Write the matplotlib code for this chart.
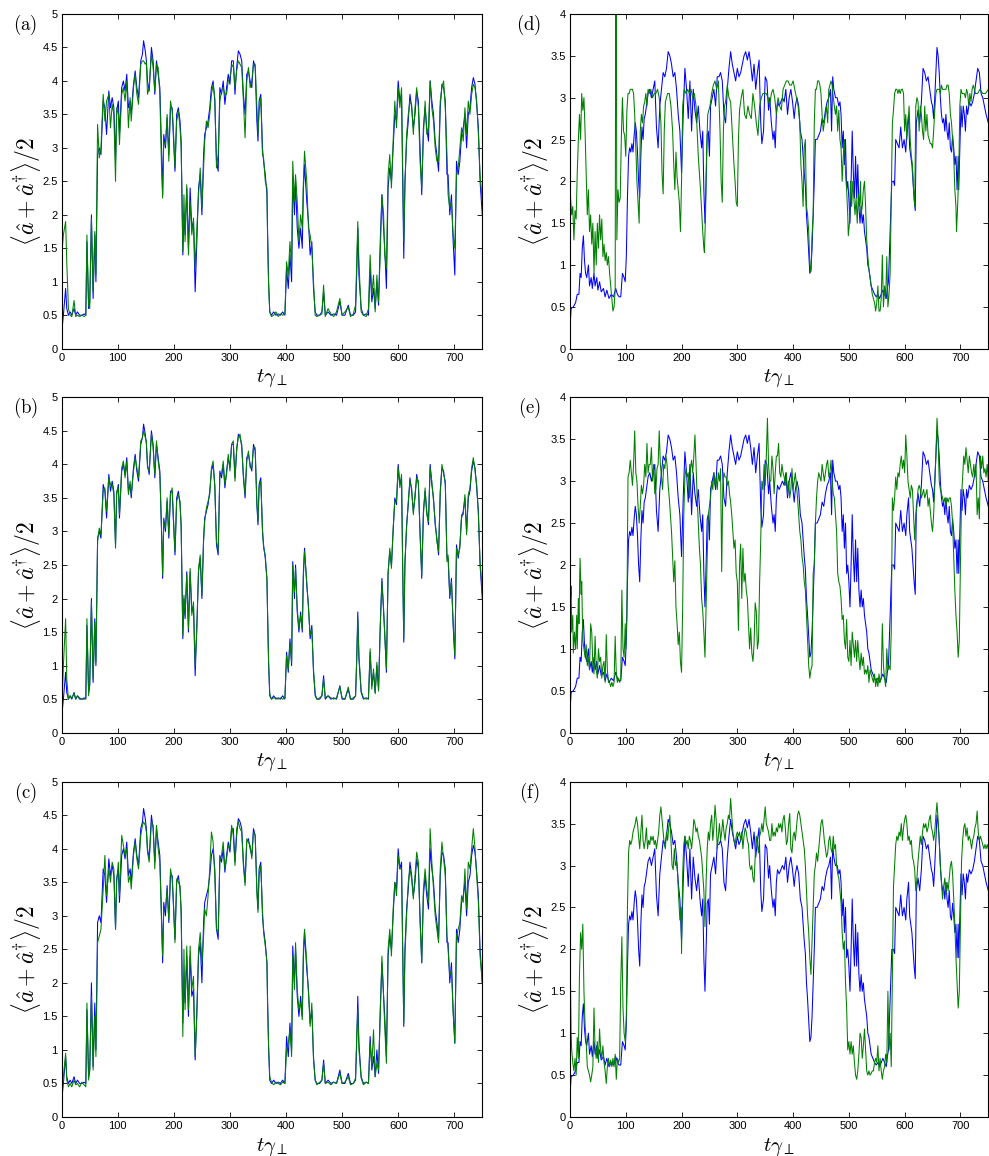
import numpy as np
import matplotlib
matplotlib.use("Agg")
import matplotlib.pyplot as plt

plt.rcParams['mathtext.fontset'] = 'cm'
plt.rcParams['font.family'] = ['Liberation Sans', 'DejaVu Sans']

# ---------------- left column (a)-(c) ----------------
t_left = [0, 3, 7, 9, 12, 15, 18, 22, 25, 28,
          32, 36, 40, 43, 45, 48, 50, 53, 56, 59,
          61, 64, 67, 70, 74, 77, 80, 84, 87, 90,
          93, 96, 98, 101, 103, 107, 110, 113, 116, 119,
          122, 124, 128, 131, 134, 137, 141, 144, 146, 149,
          151, 153, 156, 160, 163, 166, 169, 172, 175, 178,
          180, 182, 185, 188, 191, 194, 197, 199, 202, 205,
          208, 211, 213, 216, 218, 220, 223, 226, 229, 232,
          235, 238, 241, 244, 247, 250, 253, 255, 258, 261,
          264, 267, 270, 273, 276, 279, 282, 285, 288, 291,
          294, 297, 300, 303, 306, 309, 312, 315, 318, 321,
          324, 327, 330, 333, 336, 339, 342, 345, 348, 350,
          352, 355, 358, 360, 363, 366, 367, 369, 371, 374,
          378, 382, 386, 390, 394, 398, 401, 404, 407, 410,
          412, 415, 417, 420, 423, 426, 429, 431, 433, 437,
          440, 443, 446, 449, 452, 455, 460, 464, 467, 470,
          475, 480, 485, 490, 496, 500, 505, 511, 515, 520,
          524, 526, 528, 530, 534, 538, 543, 547, 550, 553,
          556, 559, 562, 565, 568, 571, 574, 576, 579, 582,
          585, 588, 591, 594, 597, 600, 603, 606, 608, 610,
          612, 615, 618, 621, 624, 627, 630, 633, 636, 639,
          642, 645, 648, 651, 654, 657, 660, 663, 666, 669,
          672, 675, 678, 681, 684, 687, 689, 692, 695, 698,
          701, 704, 707, 710, 713, 716, 719, 722, 725, 728,
          731, 734, 737, 740, 743, 746, 750]

blue_left = [0.25, 0.50, 0.90, 0.60, 0.50, 0.55, 0.50, 0.60, 0.50, 0.55,
             0.50, 0.50, 0.52, 0.50, 1.60, 0.60, 0.70, 2.00, 0.75, 1.70,
             1.00, 2.90, 3.00, 2.90, 3.70, 3.60, 3.20, 3.85, 3.60, 3.75,
             3.60, 2.80, 3.55, 3.70, 3.20, 3.90, 4.00, 3.85, 4.10, 3.60,
             3.70, 3.50, 3.95, 4.15, 3.90, 3.75, 4.30, 4.40, 4.60, 4.45,
             4.30, 4.00, 3.85, 4.50, 4.30, 3.80, 4.30, 4.10, 3.90, 3.00,
             2.30, 3.20, 3.00, 3.45, 2.90, 3.60, 3.60, 3.20, 2.65, 3.50,
             3.60, 3.40, 3.10, 1.40, 2.00, 1.70, 2.40, 1.50, 2.40, 1.80,
             1.90, 0.85, 1.60, 2.40, 2.60, 2.00, 2.90, 3.20, 3.30, 3.40,
             3.60, 3.90, 4.00, 3.70, 2.80, 2.65, 3.90, 3.80, 4.00, 3.65,
             3.90, 4.10, 3.95, 4.30, 4.30, 3.80, 4.20, 4.45, 4.40, 4.30,
             3.80, 3.50, 4.10, 4.15, 4.00, 3.90, 4.30, 4.20, 3.40, 3.10,
             3.70, 3.80, 3.00, 2.80, 2.60, 2.30, 1.80, 1.00, 0.55, 0.50,
             0.55, 0.50, 0.52, 0.50, 0.55, 0.50, 1.20, 0.90, 1.40, 1.00,
             2.55, 2.00, 2.50, 1.80, 1.50, 1.80, 1.50, 2.40, 2.75, 2.20,
             1.90, 1.40, 1.60, 0.90, 0.55, 0.50, 0.50, 0.55, 0.85, 0.50,
             0.55, 0.50, 0.52, 0.50, 0.70, 0.50, 0.50, 0.65, 0.50, 0.50,
             0.55, 1.10, 1.80, 1.10, 0.60, 0.50, 0.52, 0.50, 1.20, 0.70,
             0.90, 0.60, 1.00, 0.65, 1.60, 2.30, 1.80, 1.50, 0.90, 2.40,
             2.70, 2.50, 3.00, 3.50, 3.40, 4.00, 3.70, 3.80, 2.50, 1.35,
             2.50, 3.10, 3.40, 3.80, 3.60, 3.30, 3.50, 3.85, 3.70, 3.00,
             2.30, 3.30, 3.60, 3.30, 3.10, 4.00, 3.70, 3.50, 3.10, 2.90,
             2.65, 3.60, 3.95, 3.90, 3.70, 2.60, 2.60, 2.00, 2.30, 1.60,
             1.10, 2.80, 2.60, 2.80, 3.20, 3.30, 3.50, 3.00, 3.50, 3.60,
             3.90, 4.05, 3.95, 3.65, 3.30, 2.50, 2.00]

green_a = [1.40, 1.70, 1.90, 1.30, 0.60, 0.50, 0.48, 0.72, 0.48, 0.50,
           0.48, 0.50, 0.48, 0.50, 1.70, 0.65, 0.60, 1.95, 0.85, 1.75,
           1.10, 3.35, 2.85, 3.00, 3.80, 3.40, 3.70, 3.80, 3.30, 3.65,
           3.50, 2.50, 3.60, 3.50, 3.05, 3.80, 3.90, 3.70, 4.00, 3.30,
           3.75, 3.40, 3.90, 4.10, 3.80, 3.65, 4.25, 4.30, 4.30, 4.25,
           4.28, 3.80, 3.90, 4.40, 4.20, 3.85, 4.25, 4.20, 3.80, 2.70,
           2.25, 3.10, 3.05, 3.50, 2.80, 3.70, 3.55, 3.30, 2.70, 3.40,
           3.55, 3.30, 3.00, 1.45, 2.30, 1.60, 2.45, 1.40, 2.20, 1.70,
           1.95, 1.20, 1.80, 2.30, 2.70, 2.10, 2.70, 3.10, 3.40, 3.30,
           3.50, 3.80, 3.95, 3.75, 2.70, 2.90, 3.70, 3.85, 3.90, 3.80,
           3.80, 4.00, 4.05, 4.20, 4.25, 3.90, 4.15, 4.30, 4.25, 4.20,
           3.70, 3.15, 4.00, 4.20, 3.90, 4.00, 4.25, 4.25, 3.60, 3.20,
           3.55, 3.75, 2.90, 2.85, 2.50, 2.40, 1.70, 0.90, 0.55, 0.48,
           0.50, 0.55, 0.48, 0.52, 0.50, 0.52, 1.30, 1.10, 1.60, 1.20,
           2.80, 2.20, 2.60, 2.20, 1.60, 2.00, 1.80, 2.50, 2.95, 2.50,
           1.80, 1.70, 1.50, 1.00, 0.50, 0.48, 0.50, 0.52, 0.95, 0.48,
           0.60, 0.52, 0.48, 0.55, 0.75, 0.50, 0.55, 0.62, 0.48, 0.52,
           0.65, 1.30, 1.90, 1.30, 0.55, 0.50, 0.48, 0.60, 1.40, 0.80,
           1.10, 0.55, 1.10, 0.70, 1.40, 2.30, 2.00, 1.40, 1.20, 2.60,
           2.90, 2.40, 3.10, 3.70, 3.30, 3.90, 3.60, 3.90, 2.70, 1.60,
           2.40, 3.20, 3.50, 3.70, 3.65, 3.20, 3.60, 3.90, 3.60, 2.80,
           2.40, 3.20, 3.70, 3.20, 3.30, 4.00, 3.60, 3.40, 3.00, 2.80,
           2.80, 3.70, 3.90, 4.00, 3.60, 2.90, 2.30, 2.10, 2.20, 1.70,
           1.50, 2.60, 2.70, 3.00, 3.30, 3.10, 3.60, 3.20, 3.70, 3.50,
           3.80, 3.95, 3.90, 3.70, 3.20, 2.60, 2.20]

green_b = [0.30, 1.00, 1.70, 0.80, 0.50, 0.55, 0.52, 0.58, 0.50, 0.55,
           0.52, 0.50, 0.50, 0.52, 1.70, 0.55, 0.75, 1.95, 0.80, 1.65,
           1.05, 2.85, 3.05, 2.95, 3.60, 3.65, 3.30, 3.80, 3.70, 3.70,
           3.55, 2.75, 3.60, 3.65, 3.25, 3.95, 4.05, 3.80, 4.05, 3.55,
           3.75, 3.55, 3.90, 4.10, 3.95, 3.80, 4.35, 4.40, 4.50, 4.40,
           4.35, 3.95, 3.90, 4.45, 4.25, 3.85, 4.35, 4.05, 3.85, 3.05,
           2.35, 3.15, 3.05, 3.50, 2.95, 3.55, 3.65, 3.25, 2.70, 3.45,
           3.55, 3.45, 3.05, 1.45, 2.05, 1.75, 2.35, 1.55, 2.45, 1.75,
           1.95, 1.00, 1.55, 2.45, 2.65, 2.05, 2.85, 3.15, 3.35, 3.45,
           3.55, 3.95, 4.05, 3.65, 2.85, 2.70, 3.85, 3.85, 4.05, 3.70,
           3.85, 4.15, 3.90, 4.30, 4.35, 3.75, 4.25, 4.40, 4.45, 4.25,
           3.85, 3.55, 4.05, 4.20, 3.95, 3.95, 4.25, 4.25, 3.45, 3.15,
           3.65, 3.75, 3.05, 2.75, 2.65, 2.25, 1.85, 1.05, 0.58, 0.50,
           0.52, 0.52, 0.50, 0.52, 0.50, 0.52, 1.15, 0.95, 1.35, 1.05,
           2.50, 2.10, 2.45, 1.85, 1.55, 1.75, 1.55, 2.35, 2.70, 2.25,
           1.85, 1.45, 1.55, 0.95, 0.58, 0.50, 0.52, 0.55, 0.80, 0.52,
           0.55, 0.52, 0.50, 0.52, 0.68, 0.52, 0.50, 0.68, 0.50, 0.52,
           0.55, 1.05, 1.70, 1.15, 0.62, 0.52, 0.50, 0.52, 1.25, 0.65,
           0.95, 0.58, 1.05, 0.62, 1.55, 2.25, 1.85, 1.45, 0.95, 2.35,
           2.75, 2.45, 3.05, 3.45, 3.45, 3.95, 3.65, 3.85, 2.45, 1.40,
           2.55, 3.05, 3.45, 3.75, 3.65, 3.25, 3.55, 3.80, 3.75, 2.95,
           2.35, 3.25, 3.65, 3.25, 3.15, 3.95, 3.75, 3.45, 3.15, 2.85,
           2.70, 3.55, 4.00, 3.85, 3.75, 2.55, 2.65, 2.05, 2.25, 1.65,
           1.15, 2.75, 2.65, 2.75, 3.25, 3.25, 3.55, 2.95, 3.55, 3.65,
           3.95, 4.10, 3.90, 3.70, 3.25, 2.55, 2.10]

green_c = [0.30, 0.60, 0.95, 0.55, 0.45, 0.50, 0.45, 0.55, 0.48, 0.50,
           0.45, 0.52, 0.48, 0.45, 1.70, 0.55, 0.70, 1.80, 0.70, 1.50,
           0.90, 2.60, 2.70, 2.80, 3.40, 3.90, 3.30, 3.70, 3.50, 3.80,
           3.70, 2.80, 3.50, 3.80, 3.30, 4.20, 4.05, 3.90, 4.00, 3.50,
           3.60, 3.40, 3.90, 4.10, 3.85, 3.70, 4.20, 4.35, 4.40, 4.35,
           4.25, 3.95, 3.80, 4.40, 4.35, 3.70, 4.35, 4.00, 3.80, 2.90,
           2.40, 3.10, 3.10, 3.40, 2.95, 3.70, 3.55, 3.25, 2.60, 3.55,
           3.50, 3.45, 3.00, 1.20, 2.50, 1.60, 2.55, 1.60, 2.55, 1.90,
           2.10, 0.90, 1.50, 2.50, 2.75, 2.30, 2.70, 3.10, 3.00, 3.30,
           3.70, 4.25, 4.10, 3.60, 2.80, 2.75, 3.80, 3.90, 4.10, 3.70,
           3.85, 4.05, 4.00, 4.35, 4.20, 3.75, 4.30, 4.40, 4.30, 4.25,
           3.75, 3.45, 4.15, 4.10, 4.05, 3.85, 4.25, 4.20, 3.35, 3.05,
           3.60, 3.75, 3.10, 2.75, 2.55, 2.30, 1.70, 1.05, 0.60, 0.52,
           0.48, 0.52, 0.50, 0.48, 0.52, 0.50, 1.00, 1.10, 1.30, 0.90,
           2.40, 1.90, 2.60, 1.90, 1.60, 1.70, 1.45, 2.50, 2.80, 2.30,
           1.85, 1.35, 1.70, 0.85, 0.55, 0.48, 0.52, 0.55, 0.80, 0.50,
           0.52, 0.48, 0.52, 0.50, 0.65, 0.50, 0.52, 0.60, 0.48, 0.50,
           0.58, 1.20, 1.60, 1.00, 0.58, 0.48, 0.52, 0.50, 1.10, 0.75,
           1.30, 0.60, 0.80, 0.70, 1.50, 2.40, 1.80, 1.35, 0.80, 2.50,
           2.80, 2.40, 3.10, 3.50, 3.30, 3.90, 3.70, 3.70, 2.55, 1.40,
           2.40, 3.00, 3.50, 3.70, 3.55, 3.25, 3.60, 3.95, 3.80, 2.90,
           2.30, 3.40, 3.70, 3.40, 3.20, 4.30, 3.80, 3.40, 3.00, 2.80,
           2.60, 3.70, 4.10, 3.85, 3.60, 2.70, 2.50, 2.10, 2.20, 1.55,
           1.10, 2.70, 2.80, 2.90, 3.30, 3.20, 3.70, 3.10, 3.80, 3.70,
           4.00, 4.30, 4.00, 3.60, 3.20, 2.40, 2.00]

# ---------------- right column (d)-(f) ----------------
t_right_blue = [0, 2, 6, 10, 13, 16, 18, 20, 22, 24,
                26, 28, 30, 33, 35, 38, 40, 43, 45, 48,
                50, 53, 56, 60, 63, 66, 70, 74, 78, 82,
                85, 88, 91, 94, 97, 99, 101, 103, 105, 107,
                109, 111, 113, 115, 117, 119, 121, 123, 125, 127,
                129, 131, 133, 135, 137, 140, 143, 146, 149, 152,
                155, 158, 161, 164, 167, 170, 173, 176, 179, 182,
                185, 188, 191, 194, 197, 200, 203, 206, 209, 212,
                215, 218, 221, 224, 227, 230, 233, 236, 238, 240,
                242, 244, 246, 248, 250, 252, 255, 258, 261, 264,
                267, 270, 273, 276, 279, 282, 285, 288, 291, 294,
                297, 300, 303, 306, 309, 312, 315, 318, 321, 324,
                327, 330, 333, 336, 339, 342, 344, 347, 350, 353,
                356, 358, 361, 364, 366, 368, 370, 372, 375, 378,
                381, 384, 387, 390, 393, 396, 399, 402, 404, 407,
                410, 413, 416, 418, 420, 422, 424, 426, 428, 430,
                432, 434, 436, 438, 440, 443, 446, 449, 452, 455,
                458, 461, 464, 467, 469, 471, 473, 476, 479, 482,
                484, 486, 488, 490, 492, 494, 496, 498, 500, 502,
                504, 506, 508, 510, 512, 514, 516, 518, 520, 522,
                524, 526, 528, 530, 532, 534, 536, 538, 540, 543,
                546, 549, 552, 555, 558, 561, 564, 567, 569, 571,
                573, 575, 577, 580, 582, 584, 587, 590, 593, 596,
                599, 602, 604, 607, 609, 611, 613, 615, 617, 619,
                621, 624, 627, 630, 633, 636, 639, 642, 645, 648,
                650, 652, 654, 656, 658, 660, 662, 664, 666, 668,
                670, 672, 674, 676, 678, 680, 682, 684, 686, 688,
                690, 692, 694, 696, 697, 699, 701, 703, 705, 707,
                709, 711, 713, 716, 719, 722, 725, 728, 731, 734,
                737, 740, 743, 746, 750]

blue_right = [0.25, 0.48, 0.50, 0.55, 0.65, 0.65, 0.90, 0.85, 1.20, 1.35,
              1.05, 0.90, 0.85, 1.00, 0.75, 0.85, 0.72, 0.90, 0.75, 0.85,
              0.70, 0.80, 0.68, 0.72, 0.62, 0.70, 0.60, 0.65, 0.62, 0.72,
              0.65, 0.62, 0.62, 0.90, 0.85, 0.80, 1.10, 1.80, 2.30, 2.40,
              2.35, 2.45, 2.35, 2.55, 2.70, 2.60, 2.35, 2.00, 1.80, 2.30,
              2.65, 2.50, 2.75, 2.80, 2.90, 3.05, 3.10, 3.00, 3.10, 3.20,
              2.65, 2.40, 2.90, 3.10, 3.30, 3.25, 3.35, 3.55, 3.50, 3.40,
              3.25, 3.30, 3.10, 2.80, 2.60, 2.10, 2.80, 3.35, 3.10, 2.75,
              3.20, 2.60, 3.10, 2.85, 2.70, 2.90, 2.60, 2.40, 2.60, 1.90,
              1.50, 2.00, 2.55, 2.60, 2.30, 2.90, 3.00, 3.10, 2.90, 3.25,
              3.25, 3.30, 3.20, 2.80, 2.70, 3.10, 3.35, 3.55, 3.40, 3.30,
              3.20, 3.35, 3.25, 3.30, 3.40, 3.50, 3.55, 3.45, 3.55, 3.40,
              3.20, 3.40, 3.10, 3.30, 3.45, 2.70, 2.45, 2.60, 3.25, 3.20,
              2.85, 3.00, 2.70, 2.50, 2.60, 2.40, 2.80, 2.95, 2.90, 2.95,
              3.00, 2.95, 3.10, 2.80, 3.00, 3.10, 2.95, 2.75, 2.90, 3.00,
              2.90, 2.60, 2.50, 2.30, 2.10, 1.95, 1.60, 1.40, 1.15, 0.90,
              0.95, 1.20, 1.60, 2.00, 2.50, 2.50, 2.55, 2.60, 2.75, 2.70,
              2.85, 2.95, 3.00, 3.10, 2.60, 3.25, 3.10, 3.00, 3.00, 2.90,
              2.95, 2.80, 2.40, 2.60, 2.20, 2.50, 1.90, 2.00, 1.80, 1.50,
              2.00, 2.60, 2.10, 1.80, 2.30, 1.80, 2.20, 1.70, 1.50, 1.70,
              1.50, 1.60, 1.40, 1.30, 1.20, 1.00, 0.95, 0.85, 0.75, 0.70,
              0.65, 0.62, 0.65, 0.60, 0.65, 0.70, 0.65, 0.60, 0.72, 0.80,
              1.20, 1.60, 2.00, 2.00, 1.95, 2.50, 2.45, 2.40, 2.65, 2.40,
              2.50, 2.35, 2.60, 2.80, 2.40, 2.30, 2.20, 2.00, 1.80, 1.65,
              2.70, 2.85, 2.70, 2.95, 3.35, 3.30, 3.20, 3.25, 3.10, 2.95,
              2.90, 2.75, 3.00, 3.30, 3.60, 3.50, 3.30, 3.00, 2.80, 2.70,
              2.75, 2.60, 2.80, 2.60, 2.50, 2.70, 2.40, 2.35, 2.55, 2.40,
              2.20, 2.30, 1.90, 2.30, 1.90, 2.40, 2.90, 2.65, 2.90, 2.80,
              2.60, 2.90, 2.80, 2.95, 2.90, 2.95, 3.05, 3.20, 3.35, 3.30,
              3.05, 3.00, 2.90, 2.80, 2.70]

t_green_d = [0, 1, 3, 5, 7, 9, 11, 13, 15, 17,
             19, 21, 23, 25, 27, 29, 31, 33, 35, 37,
             39, 41, 43, 45, 47, 49, 51, 53, 55, 57,
             59, 61, 63, 65, 67, 69, 71, 73, 75, 77,
             79, 81, 82, 83, 84, 86, 88, 90, 92, 94,
             96, 98, 100, 102, 104, 106, 108, 110, 112, 114,
             116, 118, 120, 122, 124, 126, 128, 130, 132, 134,
             136, 138, 140, 142, 145, 148, 151, 154, 157, 160,
             163, 165, 167, 169, 171, 173, 175, 178, 181, 184,
             186, 188, 190, 192, 194, 196, 198, 200, 202, 205,
             208, 211, 214, 217, 220, 223, 226, 228, 230, 232,
             234, 236, 238, 240, 241, 243, 245, 247, 249, 251,
             254, 257, 260, 263, 266, 269, 271, 273, 275, 277,
             279, 282, 285, 288, 290, 292, 294, 296, 298, 300,
             302, 304, 307, 310, 313, 316, 319, 322, 325, 328,
             331, 334, 337, 340, 343, 346, 349, 352, 355, 358,
             361, 364, 367, 370, 373, 376, 379, 382, 385, 388,
             391, 394, 397, 400, 403, 406, 409, 412, 414, 416,
             418, 420, 422, 424, 426, 428, 430, 432, 434, 436,
             438, 440, 442, 444, 446, 448, 450, 452, 454, 456,
             458, 460, 462, 464, 466, 468, 470, 472, 474, 476,
             478, 480, 482, 484, 486, 488, 490, 492, 494, 496,
             498, 499, 501, 503, 505, 507, 509, 511, 513, 515,
             517, 519, 521, 522, 524, 526, 528, 530, 532, 534,
             536, 538, 540, 542, 544, 546, 548, 550, 552, 554,
             556, 558, 560, 562, 564, 566, 568, 570, 572, 574,
             576, 578, 580, 582, 584, 586, 588, 590, 592, 594,
             596, 598, 600, 602, 604, 606, 608, 610, 612, 614,
             616, 618, 620, 622, 624, 626, 628, 630, 632, 634,
             636, 638, 640, 642, 644, 646, 648, 650, 652, 654,
             656, 658, 660, 662, 664, 666, 668, 670, 672, 674,
             676, 678, 680, 682, 684, 686, 688, 690, 692, 693,
             695, 697, 699, 701, 703, 705, 707, 709, 711, 713,
             715, 717, 719, 721, 723, 725, 727, 729, 731, 735,
             740, 745, 750]

green_d = [2.00, 1.80, 1.60, 1.70, 1.30, 1.65, 1.55, 2.10, 2.50, 2.80,
           2.50, 3.05, 2.85, 3.00, 2.60, 2.10, 1.60, 1.90, 1.40, 1.60,
           1.25, 1.50, 0.90, 1.40, 1.00, 1.50, 1.20, 1.60, 1.30, 1.55,
           1.10, 1.25, 1.05, 1.15, 1.00, 1.10, 0.90, 0.75, 0.60, 0.45,
           0.50, 0.70, 4.30, 4.30, 1.30, 1.90, 1.75, 1.80, 2.50, 3.00,
           2.60, 2.55, 2.30, 2.85, 3.05, 3.05, 3.10, 3.10, 3.10, 3.05,
           2.80, 2.40, 2.00, 1.75, 1.50, 2.60, 2.80, 2.70, 2.90, 2.95,
           3.05, 2.90, 3.10, 3.05, 3.10, 3.00, 3.05, 3.05, 3.10, 3.00,
           2.70, 2.10, 1.85, 2.60, 2.95, 3.00, 3.05, 3.05, 2.90, 2.60,
           2.20, 1.90, 2.35, 2.05, 1.90, 1.75, 1.40, 2.00, 2.90, 3.10,
           3.05, 3.10, 3.05, 3.10, 3.00, 3.05, 2.90, 2.60, 2.30, 2.10,
           1.90, 1.65, 1.40, 1.20, 1.15, 1.60, 2.40, 2.80, 2.85, 2.90,
           3.05, 3.15, 3.20, 3.10, 3.20, 2.60, 2.00, 1.75, 2.60, 2.90,
           2.95, 3.15, 3.00, 2.95, 2.70, 2.45, 2.20, 2.00, 1.75, 1.70,
           2.50, 2.85, 3.00, 3.10, 2.80, 2.75, 2.90, 2.80, 2.75, 3.05,
           2.90, 2.70, 2.55, 2.90, 3.00, 3.05, 3.05, 3.05, 3.00, 2.90,
           3.05, 3.10, 3.00, 2.80, 3.00, 2.90, 2.85, 3.10, 3.15, 3.20,
           3.20, 3.15, 3.15, 3.20, 3.10, 3.00, 2.90, 2.70, 2.20, 2.00,
           1.70, 2.40, 2.50, 1.70, 1.60, 1.40, 1.00, 0.92, 1.35, 1.60,
           2.70, 3.10, 3.10, 3.20, 3.20, 3.15, 3.05, 2.80, 2.60, 2.70,
           2.80, 2.90, 2.70, 3.10, 3.15, 3.20, 3.15, 3.00, 2.90, 2.80,
           2.90, 2.60, 2.85, 2.50, 2.40, 2.00, 2.30, 2.50, 2.10, 1.90,
           1.60, 1.35, 1.50, 2.00, 1.70, 2.00, 1.80, 1.60, 1.80, 1.50,
           1.85, 1.70, 2.00, 1.60, 1.70, 1.90, 2.00, 1.70, 1.30, 1.10,
           0.95, 0.85, 0.75, 0.65, 0.60, 0.55, 0.45, 0.55, 0.75, 0.45,
           0.45, 0.60, 1.12, 0.50, 0.75, 0.60, 1.10, 0.50, 0.65, 0.90,
           1.80, 2.70, 2.85, 3.05, 3.10, 3.10, 3.05, 3.10, 3.05, 3.10,
           3.10, 3.05, 2.60, 2.80, 2.50, 2.70, 2.90, 2.50, 2.30, 2.20,
           1.90, 1.70, 2.90, 3.00, 2.95, 2.60, 2.90, 2.80, 2.60, 2.50,
           2.90, 2.60, 2.80, 2.55, 2.50, 2.45, 2.45, 2.40, 2.60, 2.85,
           3.05, 3.10, 3.10, 3.10, 3.05, 3.15, 3.10, 3.10, 3.10, 3.10,
           3.15, 3.15, 3.05, 2.80, 2.70, 2.50, 2.30, 1.90, 1.70, 1.40,
           1.70, 2.10, 2.90, 3.10, 3.05, 3.05, 3.05, 3.00, 3.10, 3.05,
           2.90, 3.05, 2.95, 3.10, 3.15, 3.10, 3.05, 3.05, 3.05, 3.10,
           3.05, 3.05, 3.10]

t_green_e = [0, 1, 2, 3, 5, 6, 8, 10, 12, 13,
             15, 16, 18, 20, 21, 23, 25, 27, 29, 31,
             33, 35, 37, 39, 41, 43, 45, 47, 49, 51,
             53, 55, 57, 59, 61, 63, 65, 67, 69, 71,
             73, 75, 77, 79, 81, 83, 85, 87, 89, 91,
             93, 95, 97, 99, 100, 102] + list(range(104, 751, 2))

green_e = [1.90, 1.60, 1.75, 1.20, 1.40, 0.95, 1.20, 1.00, 1.40, 1.00,
           1.60, 1.30, 2.08, 1.65, 1.80, 1.10, 1.00, 0.90, 1.05, 0.80,
           0.90, 0.75, 1.30, 1.20, 0.80, 0.70, 1.15, 0.75, 0.65, 1.00,
           0.85, 0.90, 0.65, 0.80, 0.85, 0.60, 1.17, 0.75, 0.60, 0.60,
           0.55, 0.60, 0.55, 0.60, 1.15, 0.70, 0.60, 0.65, 0.60, 0.65,
           1.70, 1.00, 0.90, 1.30, 1.00, 1.40,
           3.05, 3.10, 3.25, 3.10, 2.95, 3.20, 3.60, 3.10, 3.00, 2.70,
           2.50, 2.70, 2.95, 2.85, 2.95, 3.20, 3.05, 3.45, 3.10, 3.20,
           3.20, 3.40, 3.00, 3.20, 2.85, 2.90, 3.15, 3.20, 3.60, 3.20,
           3.05, 2.90, 3.20, 3.15, 3.30, 3.20, 2.95, 2.80, 2.60, 2.40,
           2.10, 1.80, 2.05, 1.50, 1.30, 1.05, 1.20, 0.85, 0.72, 1.50,
           2.60, 3.05, 3.15, 3.05, 3.10, 2.80, 3.15, 3.25, 3.10, 3.30,
           3.55, 3.20, 2.80, 2.50, 2.20, 2.00, 1.60, 1.45, 1.20, 0.90,
           1.50, 2.10, 2.60, 2.70, 2.80, 3.00, 2.90, 3.10, 2.95, 3.05,
           2.90, 3.10, 3.00, 3.15, 1.92, 2.95, 3.10, 3.05, 3.05, 2.95,
           3.00, 2.85, 2.75, 2.60, 2.40, 2.20, 2.30, 1.90, 1.80, 1.22,
           2.00, 2.25, 1.60, 2.20, 1.80, 1.90, 1.70, 1.60, 1.30, 1.00,
           1.25, 0.95, 0.85, 1.05, 1.55, 1.45, 1.00, 1.10, 1.80, 2.30,
           3.00, 2.90, 3.20, 2.95, 3.30, 3.75, 3.20, 3.00, 3.00, 3.30,
           3.15, 2.85, 3.10, 3.30, 3.30, 3.45, 3.10, 3.05, 3.20, 3.10,
           3.05, 2.95, 3.10, 2.85, 3.00, 2.80, 2.90, 3.15, 2.90, 3.00,
           3.10, 2.95, 2.80, 2.60, 2.40, 2.30, 2.10, 2.00, 1.80, 1.70,
           1.40, 1.10, 0.80, 0.65, 0.75, 0.80, 1.90, 2.00, 2.50, 2.80,
           3.00, 3.10, 3.05, 3.00, 3.20, 3.10, 3.00, 3.10, 3.20, 3.25,
           3.05, 3.10, 3.25, 3.00, 2.85, 2.80, 2.60, 2.40, 1.90, 1.80,
           1.75, 1.60, 1.35, 1.40, 1.10, 1.00, 1.35, 0.90, 0.85, 1.10,
           0.80, 1.20, 1.05, 0.90, 1.10, 0.85, 1.10, 0.90, 0.75, 0.95,
           0.80, 0.90, 0.70, 0.75, 0.70, 0.80, 0.60, 0.75, 0.70, 0.65,
           0.60, 0.70, 0.55, 0.65, 0.55, 0.70, 0.60, 0.65, 1.30, 0.80,
           0.65, 0.55, 1.00, 0.75, 0.80, 0.75, 1.20, 2.80, 2.65, 2.80,
           3.05, 2.90, 3.10, 3.05, 3.20, 3.30, 3.15, 3.25, 3.10, 3.55,
           3.30, 3.00, 2.90, 2.80, 2.95, 2.90, 2.60, 2.30, 2.60, 2.70,
           2.90, 2.95, 2.90, 2.80, 2.85, 2.90, 2.80, 2.85, 2.90, 2.70,
           2.80, 2.65, 2.50, 2.40, 2.60, 2.95, 3.30, 3.75, 3.50, 3.00,
           2.90, 2.85, 2.80, 2.75, 2.80, 2.70, 2.80, 2.75, 2.80, 2.80,
           2.70, 2.50, 2.10, 1.70, 1.40, 1.20, 0.90, 1.10, 2.00, 2.80,
           3.05, 3.30, 3.20, 3.40, 3.25, 3.10, 3.30, 3.20, 3.10, 3.05,
           3.20, 3.05, 3.20, 2.60, 2.80, 2.55, 3.30, 3.15, 3.30, 3.10,
           3.15, 3.05, 3.20, 3.00]

t_green_f = [0, 1, 2, 3] + list(range(5, 200, 2)) + list(range(200, 751, 2))

green_f = [2.05, 1.50, 1.00, 0.80,
           0.65, 0.55, 0.70, 0.50, 0.95, 0.70, 1.70, 2.20, 2.00, 2.30,
           1.50, 1.10, 0.90, 0.60, 0.55, 0.50, 0.42, 0.50, 0.60, 1.30,
           0.80, 0.70, 0.90, 0.65, 1.05, 0.80, 0.70, 0.85, 0.65, 0.55,
           0.40, 0.60, 0.70, 0.60, 0.68, 0.60, 0.70, 0.60, 0.75, 0.45,
           0.70, 0.65, 0.70, 1.60, 2.15, 1.30, 1.00, 0.90, 1.20, 2.50,
           3.15, 3.30, 3.25, 3.30, 3.40, 3.45, 3.50, 3.58, 3.50, 3.35,
           3.20, 3.40, 3.60, 3.30, 3.20, 3.30, 3.45, 3.20, 3.30, 3.25,
           3.35, 3.30, 3.35, 3.25, 3.30, 3.20, 3.30, 3.40, 3.60, 3.70,
           3.55, 3.40, 3.25, 3.20, 3.40, 3.30, 3.45, 3.60, 3.30, 3.00,
           2.95, 3.20, 3.00, 3.05, 2.90, 2.60, 2.35, 2.50,
           1.95, 2.90, 3.25, 3.35, 3.25, 3.30, 3.20, 3.35, 3.30, 3.20,
           3.35, 3.55, 3.50, 3.40, 3.45, 3.35, 3.30, 3.20, 3.10, 2.90,
           2.70, 2.27, 2.80, 3.20, 3.40, 3.30, 3.50, 3.60, 3.30, 3.45,
           3.72, 3.55, 3.20, 3.35, 3.50, 3.30, 3.40, 3.55, 3.40, 3.30,
           3.45, 3.50, 3.60, 3.55, 3.80, 3.60, 3.40, 3.30, 3.25, 3.35,
           3.40, 3.35, 3.40, 3.30, 3.40, 3.20, 3.35, 3.45, 3.40, 3.30,
           3.25, 3.00, 2.95, 3.00, 2.85, 2.80, 3.10, 3.35, 3.25, 3.15,
           3.35, 3.40, 3.50, 3.40, 3.55, 3.70, 3.50, 3.45, 3.40, 3.30,
           3.30, 3.50, 3.35, 3.40, 3.35, 3.45, 3.40, 3.50, 3.45, 3.50,
           3.40, 3.55, 3.60, 3.45, 3.25, 3.30, 3.50, 3.62, 3.20, 3.15,
           3.35, 3.40, 3.30, 3.45, 3.60, 3.65, 3.60, 3.50, 3.40, 3.30,
           3.20, 3.00, 2.70, 2.40, 2.20, 1.90, 1.70, 2.10, 2.50, 2.90,
           3.00, 3.15, 3.05, 3.20, 3.35, 3.50, 3.55, 3.45, 3.30, 3.20,
           3.10, 3.15, 3.30, 3.35, 3.20, 3.15, 3.35, 3.20, 3.25, 3.00,
           2.90, 2.85, 2.70, 2.55, 2.20, 2.00, 2.10, 1.60, 1.30, 0.80,
           0.90, 0.75, 0.90, 0.75, 0.85, 0.65, 0.50, 0.45, 0.55, 0.75,
           1.00, 0.95, 0.70, 0.85, 1.05, 0.80, 0.55, 0.50, 0.55, 0.50,
           0.52, 0.55, 0.55, 0.65, 0.70, 0.65, 0.85, 0.55, 0.70, 0.55,
           0.45, 0.55, 0.60, 0.75, 0.65, 1.50, 0.80, 1.00, 0.60, 1.70,
           2.75, 3.00, 3.25, 3.35, 3.30, 3.40, 3.35, 3.50, 3.30, 3.45,
           3.55, 3.60, 3.50, 3.30, 3.35, 3.25, 3.30, 3.10, 3.05, 2.95,
           2.70, 2.85, 3.05, 3.20, 3.35, 3.25, 3.40, 3.50, 3.45, 3.50,
           3.40, 3.45, 3.55, 3.60, 3.45, 3.40, 3.30, 3.40, 3.60, 3.75,
           3.55, 3.30, 3.00, 2.80, 2.60, 2.75, 2.85, 2.65, 2.80, 2.70,
           2.85, 3.00, 3.05, 2.90, 2.60, 2.30, 1.90, 1.60, 1.30, 1.50,
           2.30, 3.05, 3.30, 3.45, 3.50, 3.35, 3.45, 3.30, 3.35, 3.30,
           3.20, 3.30, 3.35, 3.45, 3.50, 3.65, 3.40, 3.30, 3.35, 3.30,
           3.25, 3.20, 3.25, 3.20, 3.25, 3.20]

panel_labels = ['(a)', '(b)', '(c)', '(d)', '(e)', '(f)']
x_ticks = [0, 100, 200, 300, 400, 500, 600, 700]
y_ticks_left = [0, 0.5, 1, 1.5, 2, 2.5, 3, 3.5, 4, 4.5, 5]
y_ticks_right = [0, 0.5, 1, 1.5, 2, 2.5, 3, 3.5, 4]

BLUE = (0, 0, 1)
GREEN = (0, 0.5, 0)

fig = plt.figure(figsize=(9.89, 11.56), dpi=100)
W, H = 989.0, 1156.0

left_x0, left_x1 = 61.7, 482.3
right_x0, right_x1 = 570.0, 988.3
rows = [(14.0, 348.7), (397.3, 732.7), (781.7, 1117.0)]

panels = [
    (left_x0, left_x1, rows[0], t_left, blue_left, t_left, green_a, 5, y_ticks_left, panel_labels[0]),
    (left_x0, left_x1, rows[1], t_left, blue_left, t_left, green_b, 5, y_ticks_left, panel_labels[1]),
    (left_x0, left_x1, rows[2], t_left, blue_left, t_left, green_c, 5, y_ticks_left, panel_labels[2]),
    (right_x0, right_x1, rows[0], t_right_blue, blue_right, t_green_d, green_d, 4, y_ticks_right, panel_labels[3]),
    (right_x0, right_x1, rows[1], t_right_blue, blue_right, t_green_e, green_e, 4, y_ticks_right, panel_labels[4]),
    (right_x0, right_x1, rows[2], t_right_blue, blue_right, t_green_f, green_f, 4, y_ticks_right, panel_labels[5]),
]

for (x0, x1, (ytop, ybot), tb, vb, tg, vg, ymax, yticks, lab) in panels:
    ax = fig.add_axes([x0 / W, 1 - ybot / H, (x1 - x0) / W, (ybot - ytop) / H])
    ax.plot(tb, vb, color=BLUE, lw=0.75)
    ax.plot(tg, vg, color=GREEN, lw=0.75)
    ax.set_xlim(0, 750)
    ax.set_ylim(0, ymax)
    ax.set_xticks(x_ticks)
    ax.set_yticks(yticks)
    ax.set_yticklabels([('%g' % v) for v in yticks])
    ax.tick_params(direction='in', top=True, right=True, length=3.5, width=0.6,
                   labelsize=8, pad=3)
    for sp in ax.spines.values():
        sp.set_linewidth(0.8)
    ax.set_ylabel(r'$\langle\hat{a}+\hat{a}^{\dagger}\rangle/2$', fontsize=17)
    ax.yaxis.set_label_coords(-0.085, 0.47)
    ax.set_xlabel(r'$t\gamma_{\perp}$', fontsize=15)
    ax.xaxis.set_label_coords(0.5, -0.088)
    ax.xaxis.label.set_va('center')
    ax.yaxis.label.set_va('center')
    ax.text(-0.087 if x0 < 300 else -0.098, 0.967, r'$\mathrm{' + lab + '}$',
            transform=ax.transAxes, fontsize=13.5, ha='center', va='center')

fig.savefig('out.png', dpi=100)
